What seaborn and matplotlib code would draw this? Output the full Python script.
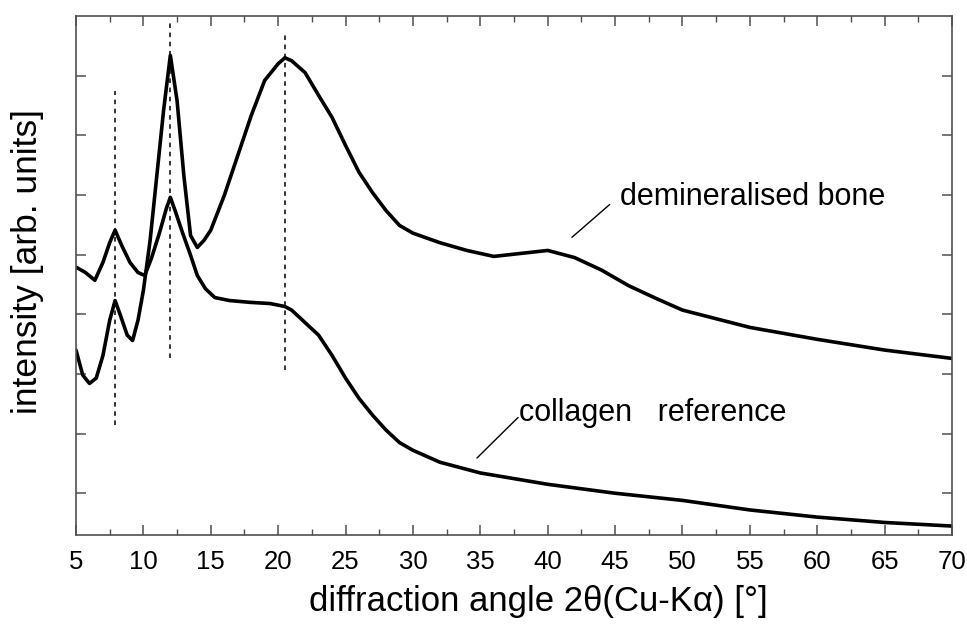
import matplotlib
matplotlib.use("Agg")
import matplotlib.pyplot as plt
import seaborn as sns
import pandas as pd
from matplotlib.ticker import MultipleLocator

# ---- data (arbitrary intensity units) ----
collagen_x = [5.0, 5.7, 6.4, 7.0, 7.5, 7.9, 8.4, 9.0, 9.6, 10.1, 10.6, 11.2, 11.7, 12.0,
              12.35, 12.9, 13.5, 14.0, 14.6, 15.3, 16.4, 17.9, 19.4, 20.5, 21.0, 22.0,
              23.0, 24.0, 25.0, 26.0, 27.0, 28.0, 29.0, 30.0, 32.0, 35.0, 40.0, 45.0,
              50.0, 55.0, 60.0, 65.0, 70.0]
collagen_y = [3.79, 3.70, 3.57, 3.87, 4.20, 4.41, 4.15, 3.87, 3.70, 3.65, 3.94, 4.37, 4.77, 4.96,
              4.74, 4.37, 3.99, 3.65, 3.43, 3.28, 3.23, 3.20, 3.18, 3.13, 3.07, 2.86,
              2.65, 2.31, 1.93, 1.59, 1.31, 1.06, 0.85, 0.72, 0.52, 0.34, 0.15, 0.00,
              -0.12, -0.28, -0.40, -0.49, -0.55]

bone_x = [5.0, 5.5, 6.0, 6.5, 7.0, 7.5, 7.9, 8.3, 8.8, 9.2, 9.6, 10.0, 10.5, 11.0, 11.5,
          12.0, 12.5, 13.0, 13.5, 14.0, 14.5, 15.0, 16.0, 17.0, 18.0, 19.0, 20.0, 20.5,
          21.0, 22.0, 23.0, 24.0, 25.0, 26.0, 27.0, 28.0, 29.0, 30.0, 32.0, 34.0, 36.0,
          38.0, 40.0, 42.0, 44.0, 46.0, 48.0, 50.0, 55.0, 60.0, 65.0, 70.0]
bone_y = [2.40, 1.98, 1.84, 1.93, 2.31, 2.90, 3.23, 2.98, 2.65, 2.56, 2.90, 3.40, 4.24, 5.33, 6.42,
          7.34, 6.58, 5.33, 4.32, 4.12, 4.24, 4.41, 4.99, 5.66, 6.33, 6.92, 7.20, 7.30,
          7.25, 7.05, 6.67, 6.30, 5.83, 5.38, 5.04, 4.74, 4.49, 4.36, 4.20, 4.07, 3.97,
          4.02, 4.07, 3.95, 3.74, 3.48, 3.27, 3.07, 2.78, 2.58, 2.40, 2.26]

# dashed marker lines: (angle, y_bottom, y_top)
marker_x = [7.9, 12.0, 20.5]
marker_ymin = [1.14, 2.26, 2.06]
marker_ymax = [6.75, 7.89, 7.69]

x_ticks = [5, 10, 15, 20, 25, 30, 35, 40, 45, 50, 55, 60, 65, 70]

sns.set_style("ticks")
plt.rcParams['font.family'] = ['Liberation Sans', 'DejaVu Sans']
plt.rcParams['text.color'] = 'black'
plt.rcParams['axes.labelcolor'] = 'black'
plt.rcParams['xtick.labelcolor'] = 'black'

fig = plt.figure(figsize=(9.67, 6.28), dpi=100)
ax = fig.add_axes([76 / 967, 1 - 535 / 628, (952 - 76) / 967, (535 - 16) / 628])

df_c = pd.DataFrame({"angle": collagen_x, "intensity": collagen_y})
df_b = pd.DataFrame({"angle": bone_x, "intensity": bone_y})
sns.lineplot(data=df_c, x="angle", y="intensity", ax=ax, color="black", lw=2.6, sort=False)
sns.lineplot(data=df_b, x="angle", y="intensity", ax=ax, color="black", lw=2.6, sort=False)

for mx, y0, y1 in zip(marker_x, marker_ymin, marker_ymax):
    ax.plot([mx, mx], [y0, y1], color="black", lw=1.1, ls=(0, (3, 3)))

ax.set_xlim(5, 70)
ax.set_ylim(-0.7, 8.0)
ax.set_xticks(x_ticks)
ax.xaxis.set_minor_locator(MultipleLocator(2.5))
ax.set_yticks(range(0, 8))
ax.set_yticklabels([])

spine_col = "#505050"
for s in ax.spines.values():
    s.set_visible(True)
    s.set_color(spine_col)
    s.set_linewidth(1.2)
ax.tick_params(axis="both", which="major", direction="in", length=7, width=1.1,
               color=spine_col, labelcolor="black", top=True, right=True,
               labelsize=18.5, pad=11)
ax.tick_params(axis="x", which="minor", direction="in", length=4, width=1.0,
               color=spine_col, top=True)
ax.tick_params(axis="y", which="minor", left=False, right=False)

ax.set_xlabel("diffraction angle 2θ(Cu-Kα) [°]", fontsize=25, labelpad=8)
ax.set_ylabel("intensity [arb. units]", fontsize=25.5, labelpad=12)
ax.xaxis.label.set_x(0.528)
ax.yaxis.label.set_y(0.526)

ax.text(45.4, 4.96, "demineralised bone", fontsize=22, va="center", ha="left")
ax.plot([41.8, 44.6], [4.29, 4.84], color="black", lw=1.0)
ax.text(37.9, 1.34, "collagen   reference", fontsize=22, va="center", ha="left")
ax.plot([34.75, 37.8], [0.59, 1.27], color="black", lw=1.0)

fig.savefig("out.png", dpi=100)
